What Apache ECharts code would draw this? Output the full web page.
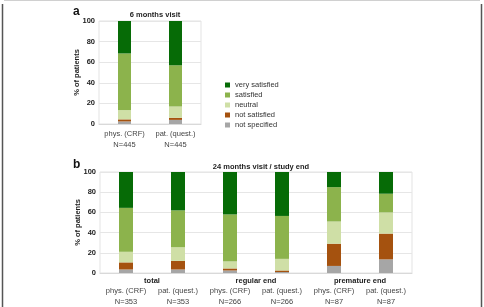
<html>
<head>
    <meta charset='utf-8' />
    <script src="https://cdn.jsdelivr.net/npm/echarts@6/dist/echarts.min.js"></script>
    <title>Patient satisfaction</title>
    <style>
        body { margin: 0; overflow: hidden; background: #fff; }
        #chart { width: 484px; height: 307px; }
    </style>
</head>
<body>
    <div id="chart"></div>
    <script type="text/javascript">
        // series names, bottom of stack first
        var levels = ['not specified', 'not satisfied', 'neutral', 'satisfied', 'very satisfied'];
        var colors = ['#a6a6a6', '#a5520f', '#cfdfa6', '#8cb34c', '#066b06'];

        // panel a: 6 months visit
        var labels6 = ['phys. (CRF)', 'pat. (quest.)'];
        var n6 = [445, 445];
        var notSpecified6 = [2.5, 4];
        var notSatisfied6 = [2, 2];
        var neutral6 = [9, 11];
        var satisfied6 = [55, 40];
        var verySatisfied6 = [31.5, 43];

        // panel b: 24 months visit / study end
        var groups24 = ['total', 'regular end', 'premature end'];
        var labels24 = ['phys. (CRF)', 'pat. (quest.)', 'phys. (CRF)', 'pat. (quest.)', 'phys. (CRF)', 'pat. (quest.)'];
        var n24 = [353, 353, 266, 266, 87, 87];
        var notSpecified24 = [3.5, 3.5, 2.5, 1, 7, 13.5];
        var notSatisfied24 = [7, 8.5, 2, 1.5, 22, 25.5];
        var neutral24 = [10.5, 13.5, 7, 11.5, 22, 21];
        var satisfied24 = [43.5, 36.5, 46.5, 42.5, 34, 18.5];
        var verySatisfied24 = [35.5, 38, 42, 43.5, 15, 21.5];

        var yTicks = [0, 20, 40, 60, 80, 100];

        var font = 'Liberation Sans, Arial, sans-serif';
        var data6 = [notSpecified6, notSatisfied6, neutral6, satisfied6, verySatisfied6];
        var data24 = [notSpecified24, notSatisfied24, neutral24, satisfied24, verySatisfied24];

        function catLabels(labels, ns) {
            return labels.map(function(l, i) { return l + '\nN=' + ns[i]; });
        }

        function yAxis(gridIndex) {
            return {
                type: 'value', gridIndex: gridIndex,
                min: yTicks[0], max: yTicks[yTicks.length - 1], interval: yTicks[1] - yTicks[0],
                name: '% of patients', nameLocation: 'middle', nameGap: 18, nameMoveOverlap: false,
                nameTextStyle: { fontFamily: font, fontSize: 7.5, fontWeight: 'bold', color: '#222' },
                axisLine: { show: false }, axisTick: { show: false },
                axisLabel: { fontFamily: font, fontSize: 7.5, fontWeight: 'bold', color: '#222', margin: 4 },
                splitLine: { lineStyle: { color: '#e6e6e6', width: 1 } }
            };
        }

        var series = [];
        levels.forEach(function(name, k) {
            series.push({
                name: name, type: 'bar', stack: 'a', xAxisIndex: 0, yAxisIndex: 0,
                barWidth: 13, itemStyle: { color: colors[k] }, data: data6[k]
            });
            series.push({
                name: name, type: 'bar', stack: 'b', xAxisIndex: 1, yAxisIndex: 1,
                barWidth: 14, itemStyle: { color: colors[k] }, data: data24[k]
            });
        });

        var chart = echarts.init(document.getElementById('chart'));
        chart.setOption({
            animation: false,
            grid: [
                { left: 99, top: 21, width: 102, height: 103, show: true, borderColor: '#e3e3e3', borderWidth: 1 },
                { left: 100, top: 172, width: 312, height: 103, show: true, borderColor: '#e3e3e3', borderWidth: 1 }
            ],
            legend: {
                data: levels.slice().reverse(),
                orient: 'vertical', left: 220, top: 76,
                itemWidth: 5, itemHeight: 5, itemGap: 2,
                icon: 'rect',
                textStyle: { fontFamily: font, fontSize: 7.5, color: '#333', lineHeight: 8 }
            },
            xAxis: [
                {
                    type: 'category', gridIndex: 0, data: catLabels(labels6, n6),
                    axisLine: { lineStyle: { color: '#d9d9d9' } }, axisTick: { show: false },
                    axisLabel: { interval: 0, fontFamily: font, fontSize: 7.5, color: '#444', lineHeight: 11, margin: 4 }
                },
                {
                    type: 'category', gridIndex: 1, data: catLabels(labels24, n24),
                    axisLine: { lineStyle: { color: '#d9d9d9' } }, axisTick: { show: false },
                    axisLabel: { interval: 0, fontFamily: font, fontSize: 7.5, color: '#444', lineHeight: 11, margin: 12 }
                },
                {
                    type: 'category', gridIndex: 1, data: groups24, position: 'bottom',
                    axisLine: { show: false }, axisTick: { show: false },
                    axisLabel: { interval: 0, fontFamily: font, fontSize: 7.5, fontWeight: 'bold', color: '#222', margin: 4 }
                }
            ],
            yAxis: [yAxis(0), yAxis(1)],
            title: [
                { text: '6 months visit', left: 150, top: 6, textAlign: 'center',
                  textStyle: { fontFamily: font, fontSize: 7.5, fontWeight: 'bold', color: '#222' } },
                { text: '24 months visit / study end', left: 256, top: 158, textAlign: 'center',
                  textStyle: { fontFamily: font, fontSize: 7.5, fontWeight: 'bold', color: '#222' } },
                { text: 'a', left: 68, top: 1,
                  textStyle: { fontFamily: font, fontSize: 12, fontWeight: 'bold', color: '#111' } },
                { text: 'b', left: 68, top: 154,
                  textStyle: { fontFamily: font, fontSize: 12, fontWeight: 'bold', color: '#111' } }
            ],
            graphic: [
                { type: 'line', shape: { x1: 2.5, y1: 4, x2: 2.5, y2: 307 }, style: { stroke: '#555', lineWidth: 1.5 } },
                { type: 'line', shape: { x1: 481.5, y1: 4, x2: 481.5, y2: 307 }, style: { stroke: '#555', lineWidth: 1.5 } },
                { type: 'line', shape: { x1: 4, y1: 0.5, x2: 480, y2: 0.5 }, style: { stroke: '#d0d0d0', lineWidth: 1 } }
            ],
            series: series
        });
    </script>
</body>
</html>
